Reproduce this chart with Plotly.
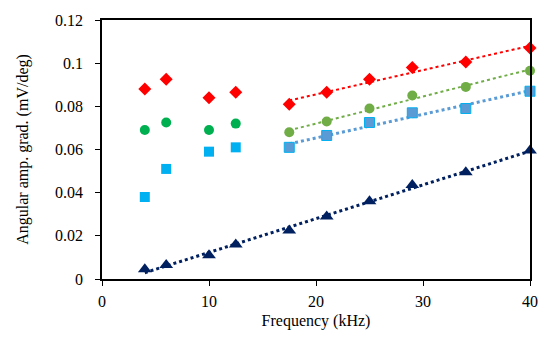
import numpy as np
import plotly.graph_objects as go

freq = [4, 6, 10, 12.5, 17.5, 21, 25, 29, 34, 40]
red = [0.088, 0.0925, 0.084, 0.0865, 0.081, 0.0865, 0.0925, 0.098, 0.1005, 0.107]
green = [0.069, 0.0725, 0.069, 0.072, 0.068, 0.073, 0.079, 0.085, 0.089, 0.0965]
blue = [0.038, 0.051, 0.059, 0.061, 0.061, 0.0665, 0.0725, 0.077, 0.079, 0.087]
navy = [0.0045, 0.0065, 0.011, 0.016, 0.0225, 0.029, 0.036, 0.0435, 0.0495, 0.0595]
split = 4  # first fitted index for upper series

fig = go.Figure()

def trend(x, y, color, width, start):
    xs = np.array(x[start:], dtype=float)
    ys = np.array(y[start:], dtype=float)
    p = np.polyfit(xs, ys, 1)
    xx = np.array([xs.min(), xs.max()])
    fig.add_trace(go.Scatter(x=xx, y=np.polyval(p, xx), mode="lines",
                             line=dict(color=color, width=width, dash="dot"),
                             showlegend=False, hoverinfo="skip", cliponaxis=False))

trend(freq, red, "#FF0000", 2, split)
trend(freq, green, "#70AD47", 2, split)
trend(freq, blue, "#5B9BD5", 3, split)
trend(freq, navy, "#002060", 3, 0)

# Low-frequency markers
fig.add_trace(go.Scatter(x=freq[:split], y=red[:split], mode="markers",
                         marker=dict(symbol="diamond", size=10, color="#FF0000"), showlegend=False))
fig.add_trace(go.Scatter(x=freq[:split], y=green[:split], mode="markers",
                         marker=dict(symbol="circle", size=10, color="#00B050"), showlegend=False))
fig.add_trace(go.Scatter(x=freq[:split], y=blue[:split], mode="markers",
                         marker=dict(symbol="square", size=10, color="#00B0F0"), showlegend=False))
# High-frequency markers
fig.add_trace(go.Scatter(x=freq[split:], y=red[split:], mode="markers", cliponaxis=False,
                         marker=dict(symbol="diamond", size=10, color="#FF0000"), showlegend=False))
fig.add_trace(go.Scatter(x=freq[split:], y=green[split:], mode="markers", cliponaxis=False,
                         marker=dict(symbol="circle", size=10, color="#70AD47"), showlegend=False))
fig.add_trace(go.Scatter(x=freq[split:], y=blue[split:], mode="markers", cliponaxis=False,
                         marker=dict(symbol="square", size=10, color="#5B9BD5",
                                     line=dict(color="#00B0F0", width=1)), showlegend=False))
fig.add_trace(go.Scatter(x=freq, y=navy, mode="markers", cliponaxis=False,
                         marker=dict(symbol="triangle-up", size=12, color="#002060"), showlegend=False))

font = dict(family="Liberation Serif, Times New Roman, serif", size=16, color="black")
fig.update_layout(
    width=550, height=339,
    margin=dict(l=102, r=15, t=17, b=58),
    paper_bgcolor="white", plot_bgcolor="white",
    font=font,
    xaxis=dict(range=[0, 40], tickvals=[0, 10, 20, 30, 40], showgrid=False, zeroline=False,
               showline=True, linecolor="black", linewidth=1.5, mirror=True,
               ticks="outside", ticklen=5, tickcolor="black", ticklabelstandoff=2,
               title=dict(text="Frequency (kHz)", standoff=6, font=dict(size=16))),
    yaxis=dict(range=[0, 0.12], tickvals=[0, 0.02, 0.04, 0.06, 0.08, 0.1, 0.12],
               ticktext=["0", "0.02", "0.04", "0.06", "0.08", "0.1", "0.12"],
               showgrid=False, zeroline=False,
               showline=True, linecolor="black", linewidth=1.5, mirror=True,
               ticks="outside", ticklen=5, tickcolor="black", ticklabelstandoff=9,
               title=dict(text="Angular amp. grad. (mV/deg)", standoff=22, font=dict(size=16))),
)

fig.write_html("out.html", config={"displayModeBar": False},
               post_script="document.body.style.margin='0';")
